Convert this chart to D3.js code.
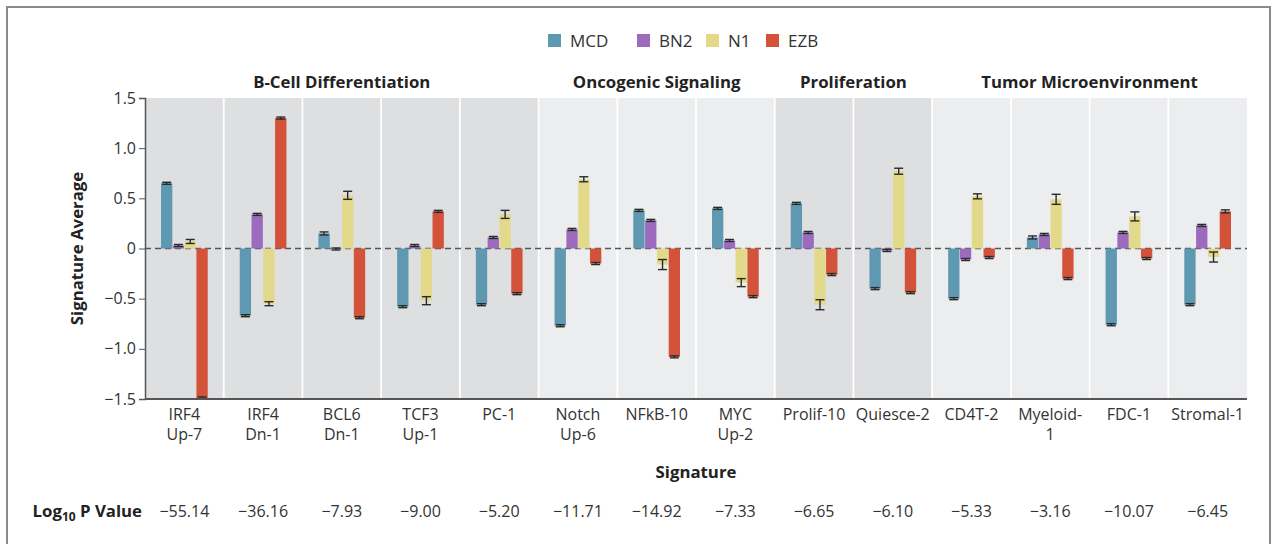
<!DOCTYPE html>
<html>
<head>
<meta charset="utf-8">
<script src="https://cdn.jsdelivr.net/npm/d3@7"></script>
<style>
  body { margin: 0; background: #fff; }
  svg { font-family: "Open Sans", "Noto Sans", sans-serif; }
</style>
</head>
<body>
<svg id="chart" width="1275" height="544"></svg>
<script>
// chart data
var series = ["MCD", "BN2", "N1", "EZB"];
var colors = ["#5f98b1", "#9c6bbd", "#e3d98b", "#d3523a"];

var signatures = ["IRF4 Up-7", "IRF4 Dn-1", "BCL6 Dn-1", "TCF3 Up-1", "PC-1",
    "Notch Up-6", "NFkB-10", "MYC Up-2", "Prolif-10", "Quiesce-2",
    "CD4T-2", "Myeloid-1", "FDC-1", "Stromal-1"];
var sigLines = [["IRF4", "Up-7"], ["IRF4", "Dn-1"], ["BCL6", "Dn-1"], ["TCF3", "Up-1"], ["PC-1"],
    ["Notch", "Up-6"], ["NFkB-10"], ["MYC", "Up-2"], ["Prolif-10"], ["Quiesce-2"],
    ["CD4T-2"], ["Myeloid-", "1"], ["FDC-1"], ["Stromal-1"]];

var groupNames = ["B-Cell Differentiation", "Oncogenic Signaling", "Proliferation", "Tumor Microenvironment"];
var groupSizes = [5, 3, 2, 4];

var mcd = [0.65, -0.67, 0.15, -0.58, -0.56, -0.77, 0.38, 0.40, 0.45, -0.40, -0.50, 0.11, -0.76, -0.56];
var bn2 = [0.03, 0.34, -0.005, 0.03, 0.11, 0.19, 0.28, 0.08, 0.16, -0.02, -0.11, 0.14, 0.16, 0.23];
var n1  = [0.07, -0.55, 0.53, -0.52, 0.34, 0.69, -0.16, -0.34, -0.56, 0.77, 0.52, 0.49, 0.32, -0.085];
var ezb = [-1.49, 1.30, -0.69, 0.37, -0.45, -0.15, -1.08, -0.48, -0.26, -0.44, -0.09, -0.30, -0.10, 0.37];

var mcdErr = [0.01, 0.01, 0.015, 0.01, 0.01, 0.01, 0.01, 0.01, 0.01, 0.01, 0.01, 0.015, 0.01, 0.01];
var bn2Err = [0.01, 0.01, 0.01, 0.01, 0.01, 0.01, 0.01, 0.01, 0.01, 0.01, 0.01, 0.01, 0.01, 0.01];
var n1Err  = [0.02, 0.02, 0.04, 0.04, 0.04, 0.025, 0.05, 0.04, 0.05, 0.03, 0.025, 0.05, 0.045, 0.05];
var ezbErr = [0.01, 0.01, 0.01, 0.01, 0.01, 0.01, 0.01, 0.01, 0.01, 0.01, 0.01, 0.01, 0.01, 0.015];

var pValues = ["\u221255.14", "\u221236.16", "\u22127.93", "\u22129.00", "\u22125.20", "\u221211.71",
    "\u221214.92", "\u22127.33", "\u22126.65", "\u22126.10", "\u22125.33", "\u22123.16", "\u221210.07", "\u22126.45"];

var yTicks = [1.5, 1.0, 0.5, 0, -0.5, -1.0, -1.5];

var values = [mcd, bn2, n1, ezb];
var errors = [mcdErr, bn2Err, n1Err, ezbErr];

var svg = d3.select("#chart");

var margin = {left: 145, right: 28, top: 98, bottom: 145};
var width = 1275 - margin.left - margin.right;
var height = 544 - margin.top - margin.bottom;

// frame
svg.append("rect")
    .attr("x", 7).attr("y", 7)
    .attr("width", 1263).attr("height", 545)
    .attr("fill", "none")
    .attr("stroke", "#8a8a8a")
    .attr("stroke-width", 2);

var g = svg.append("g")
    .attr("transform", "translate(" + margin.left + "," + margin.top + ")");

var x0 = d3.scaleBand().domain(signatures).range([0, width]).padding(0);
var x1 = d3.scaleBand().domain(series)
    .range([16, x0.bandwidth() - 16]).paddingInner(0.04);
var y = d3.scaleLinear().domain([-1.5, 1.5]).range([height, 0]);

// group index of each signature
var groupOf = [];
groupSizes.forEach(function (n, i) {
    for (var k = 0; k < n; k++) groupOf.push(i);
});
var shades = ["#dedfe1", "#ecedee", "#dedfe1", "#ecedee"];

// panel backgrounds
g.selectAll(".panel")
    .data(signatures)
    .enter().append("rect")
    .attr("class", "panel")
    .attr("x", function (d) { return x0(d); })
    .attr("y", 0)
    .attr("width", x0.bandwidth())
    .attr("height", height)
    .attr("fill", function (d, i) { return shades[groupOf[i]]; });

g.selectAll(".sep")
    .data(signatures.slice(1))
    .enter().append("line")
    .attr("class", "sep")
    .attr("x1", function (d) { return x0(d); })
    .attr("x2", function (d) { return x0(d); })
    .attr("y1", 0).attr("y2", height)
    .attr("stroke", "#fff")
    .attr("stroke-width", 1.8);

// group headers
var start = 0;
groupNames.forEach(function (name, i) {
    var a = x0(signatures[start]);
    var b = x0(signatures[start + groupSizes[i] - 1]) + x0.bandwidth();
    g.append("text")
        .attr("x", (a + b) / 2)
        .attr("y", -10)
        .attr("text-anchor", "middle")
        .attr("font-size", 16.8)
        .attr("font-weight", "bold")
        .attr("fill", "#222")
        .text(name);
    start += groupSizes[i];
});

// zero line
g.append("line")
    .attr("x1", 0).attr("x2", width)
    .attr("y1", y(0)).attr("y2", y(0))
    .attr("stroke", "#555")
    .attr("stroke-width", 1.5)
    .attr("stroke-dasharray", "6,4");

// bars
var sigG = g.selectAll(".sig")
    .data(signatures)
    .enter().append("g")
    .attr("class", "sig")
    .attr("transform", function (d) { return "translate(" + x0(d) + ",0)"; });

series.forEach(function (s, si) {
    sigG.append("rect")
        .attr("x", x1(s))
        .attr("width", x1.bandwidth())
        .attr("y", function (d, i) { return y(Math.max(0, values[si][i])); })
        .attr("height", function (d, i) { return Math.abs(y(values[si][i]) - y(0)); })
        .attr("fill", colors[si]);

    var cx = x1(s) + x1.bandwidth() / 2;
    var eb = sigG.append("g").attr("stroke", "#2a2a2a").attr("stroke-width", 1.4);
    eb.append("line")
        .attr("x1", cx).attr("x2", cx)
        .attr("y1", function (d, i) { return y(values[si][i] + errors[si][i]); })
        .attr("y2", function (d, i) { return y(values[si][i] - errors[si][i]); });
    eb.append("line")
        .attr("x1", cx - 4.5).attr("x2", cx + 4.5)
        .attr("y1", function (d, i) { return y(values[si][i] + errors[si][i]); })
        .attr("y2", function (d, i) { return y(values[si][i] + errors[si][i]); });
    eb.append("line")
        .attr("x1", cx - 4.5).attr("x2", cx + 4.5)
        .attr("y1", function (d, i) { return y(values[si][i] - errors[si][i]); })
        .attr("y2", function (d, i) { return y(values[si][i] - errors[si][i]); });
});

// y axis
var yAxis = g.append("g")
    .call(d3.axisLeft(y).tickValues(yTicks).tickSize(6)
        .tickFormat(function (d) { return d === 0 ? "0" : d3.format(".1f")(d).replace("-", "\u2212"); }));
yAxis.select(".domain").attr("stroke", "#555").attr("stroke-width", 1.5);
yAxis.selectAll(".tick line").attr("stroke", "#555");
yAxis.selectAll(".tick text").attr("font-size", 16).attr("fill", "#333")
    .attr("font-family", "'Open Sans', sans-serif");

// bottom axis line
g.append("line")
    .attr("x1", 0).attr("x2", width)
    .attr("y1", height).attr("y2", height)
    .attr("stroke", "#555").attr("stroke-width", 2);

// x labels
sigG.each(function (d, i) {
    var t = d3.select(this).append("text")
        .attr("text-anchor", "middle")
        .attr("font-size", 16)
        .attr("fill", "#333");
    sigLines[i].forEach(function (line, li) {
        t.append("tspan")
            .attr("x", x0.bandwidth() / 2)
            .attr("y", height + 21 + li * 20)
            .text(line);
    });
});

// axis titles
g.append("text")
    .attr("transform", "translate(-62," + (height / 2) + ") rotate(-90)")
    .attr("text-anchor", "middle")
    .attr("font-size", 16.8)
    .attr("font-weight", "bold")
    .attr("fill", "#222")
    .text("Signature Average");

g.append("text")
    .attr("x", width / 2)
    .attr("y", height + 79)
    .attr("text-anchor", "middle")
    .attr("font-size", 16.8)
    .attr("font-weight", "bold")
    .attr("fill", "#222")
    .text("Signature");

// p value row
var pLabel = g.append("text")
    .attr("x", -3)
    .attr("y", height + 118)
    .attr("text-anchor", "end")
    .attr("font-size", 16.8)
    .attr("font-weight", "bold")
    .attr("fill", "#222");
pLabel.append("tspan").text("Log");
pLabel.append("tspan").attr("font-size", 12).attr("dy", 4).text("10");
pLabel.append("tspan").attr("dy", -4).text(" P Value");

sigG.append("text")
    .attr("x", x0.bandwidth() / 2)
    .attr("y", height + 118)
    .attr("text-anchor", "middle")
    .attr("font-size", 16)
    .attr("fill", "#333")
    .text(function (d, i) { return pValues[i]; });

// legend
var legendX = [548, 637, 706, 766];
var legend = svg.append("g");
series.forEach(function (s, i) {
    legend.append("rect")
        .attr("x", legendX[i]).attr("y", 34)
        .attr("width", 13).attr("height", 13)
        .attr("fill", colors[i]);
    legend.append("text")
        .attr("x", legendX[i] + 22).attr("y", 47)
        .attr("font-size", 17)
        .attr("fill", "#333")
        .text(s);
});
</script>
</body>
</html>
